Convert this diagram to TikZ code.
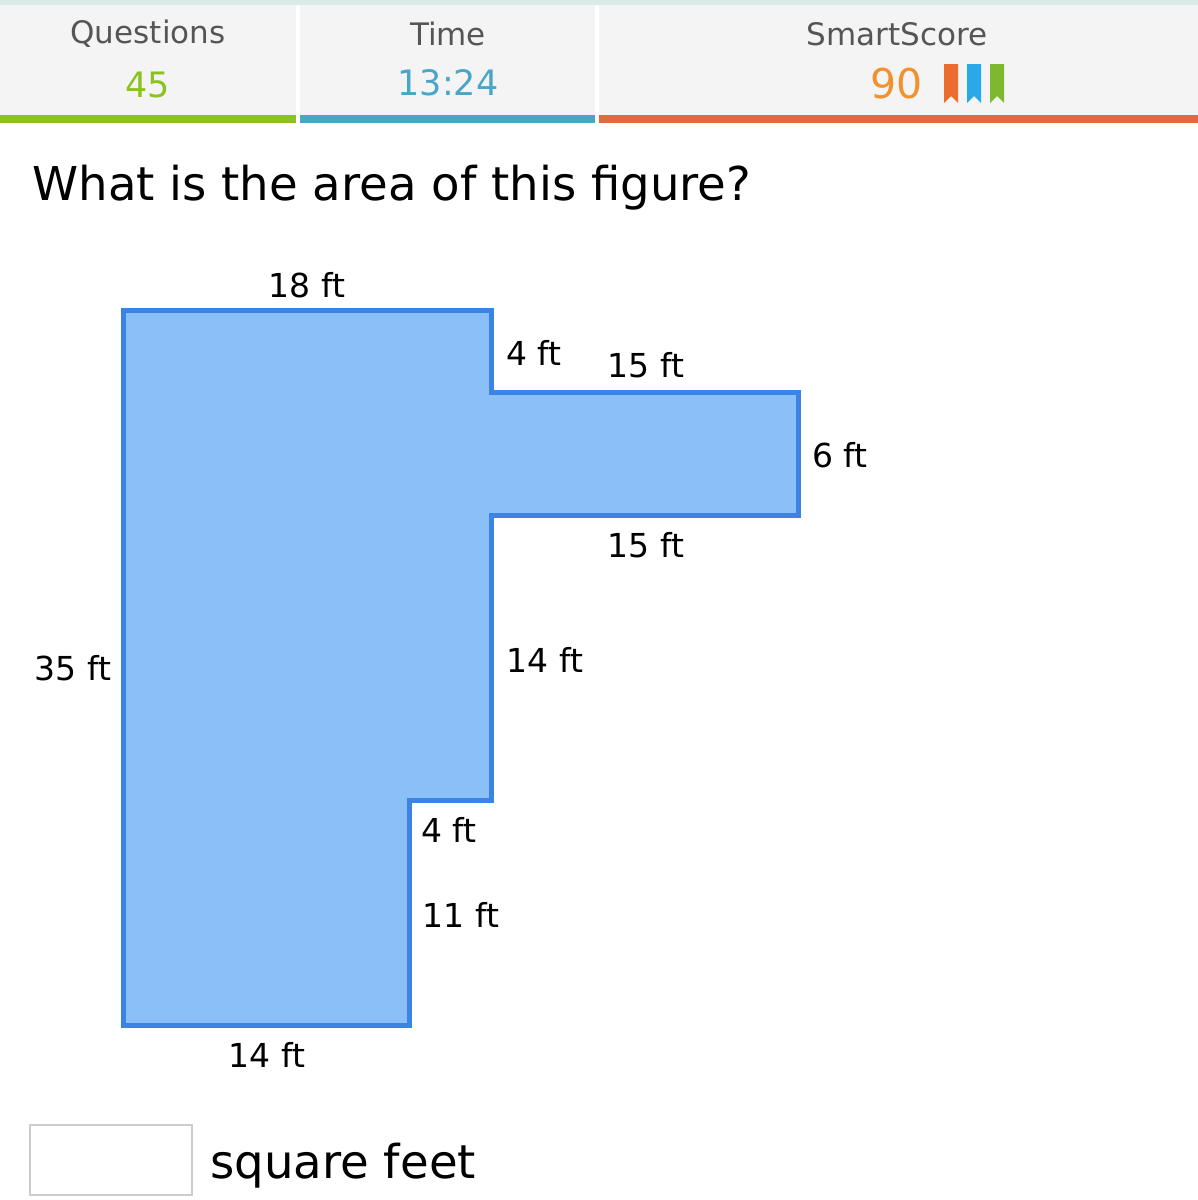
\documentclass[tikz,border=0pt]{standalone}
\usepackage{fontspec}
\setmainfont{DejaVu Sans}
\definecolor{strip}{HTML}{D8EBE6}
\definecolor{headbg}{HTML}{F4F4F4}
\definecolor{headtxt}{HTML}{555555}
\definecolor{qgreen}{HTML}{8CC21E}
\definecolor{tblue}{HTML}{4AA6C7}
\definecolor{sorange}{HTML}{F0922E}
\definecolor{barorange}{HTML}{E4693A}
\definecolor{mkorange}{HTML}{EC6B2F}
\definecolor{mkblue}{HTML}{2AA8E8}
\definecolor{mkgreen}{HTML}{7DB82E}
\definecolor{figfill}{HTML}{8BBFF7}
\definecolor{figline}{HTML}{3C83E6}
\definecolor{boxline}{HTML}{CCCCCC}
\tikzset{
  headlabel/.style={text=headtxt, font=\fontsize{15.5}{18}\selectfont, inner sep=0pt},
  headvalue/.style={font=\fontsize{17.5}{20}\selectfont, inner sep=0pt},
  dimlabel/.style={font=\fontsize{16.5}{20}\selectfont, inner sep=0pt},
  bigtext/.style={font=\fontsize{23.3}{28}\selectfont, inner sep=0pt}
}
\begin{document}
\begin{tikzpicture}[x=0.5pt,y=-0.5pt]
 \useasboundingbox (0,0) rectangle (1198,1200);
 \fill[white] (0,0) rectangle (1198,1200);

 % l'en-tete
 \fill[headbg] (0,5) rectangle (1198,116);
 \fill[strip] (0,0) rectangle (1198,5);
 \fill[white] (296,5) rectangle (300,123);
 \fill[white] (595,5) rectangle (599,123);
 \fill[qgreen] (0,115) rectangle (296,123);
 \fill[tblue] (300,115) rectangle (595,123);
 \fill[barorange] (599,115) rectangle (1198,123);

 \node[headlabel] (questions) at (148,34) {Questions};
 \node[headlabel] (time) at (448,34) {Time};
 \node[headlabel] (smartscore) at (897,34) {SmartScore};
 \node[headvalue, text=qgreen] (count) at (148,85) {45};
 \node[headvalue, text=tblue] (clock) at (448,83) {13:24};
 \node[headvalue, text=sorange, font=\fontsize{20.5}{24}\selectfont] (score) at (897,84) {90};

 % les marque-pages
 \foreach \x/\c in {944/mkorange, 967/mkblue, 990/mkgreen}{
    \fill[\c] (\x,64) -- ++(14,0) -- ++(0,39) -- ++(-7,-7) -- ++(-7,7) -- cycle;
 }

 \node[bigtext, anchor=base west] (question) at (32,200) {What is the area of this figure?};

 % la figure
 \coordinate (a) at (123,310);
 \coordinate (b) at (491,310);
 \coordinate (c) at (491,392);
 \coordinate (d) at (798,392);
 \coordinate (e) at (798,515);
 \coordinate (f) at (491,515);
 \coordinate (g) at (491,800);
 \coordinate (h) at (409,800);
 \coordinate (i) at (409,1025);
 \coordinate (j) at (123,1025);
 \filldraw[fill=figfill, draw=figline, line width=2.5pt, line join=miter]
   (a) -- (b) -- (c) -- (d) -- (e) -- (f) -- (g) -- (h) -- (i) -- (j) -- cycle;

 \node[dimlabel] (top) at (307,285) {18 ft};
 \node[dimlabel] (step) at (534,353) {4 ft};
 \node[dimlabel] (armtop) at (646,365) {15 ft};
 \node[dimlabel] (armend) at (840,455) {6 ft};
 \node[dimlabel] (armbot) at (646,545) {15 ft};
 \node[dimlabel] (right) at (545,660) {14 ft};
 \node[dimlabel] (left) at (73,668) {35 ft};
 \node[dimlabel] (notch) at (449,830) {4 ft};
 \node[dimlabel] (lower) at (461,915) {11 ft};
 \node[dimlabel] (bottom) at (267,1055) {14 ft};

 % la reponse
 \draw[boxline, line width=1pt] (30,1125) rectangle (192,1195);
 \node[bigtext, anchor=base west] (unit) at (210,1178) {square feet};
\end{tikzpicture}
\end{document}
